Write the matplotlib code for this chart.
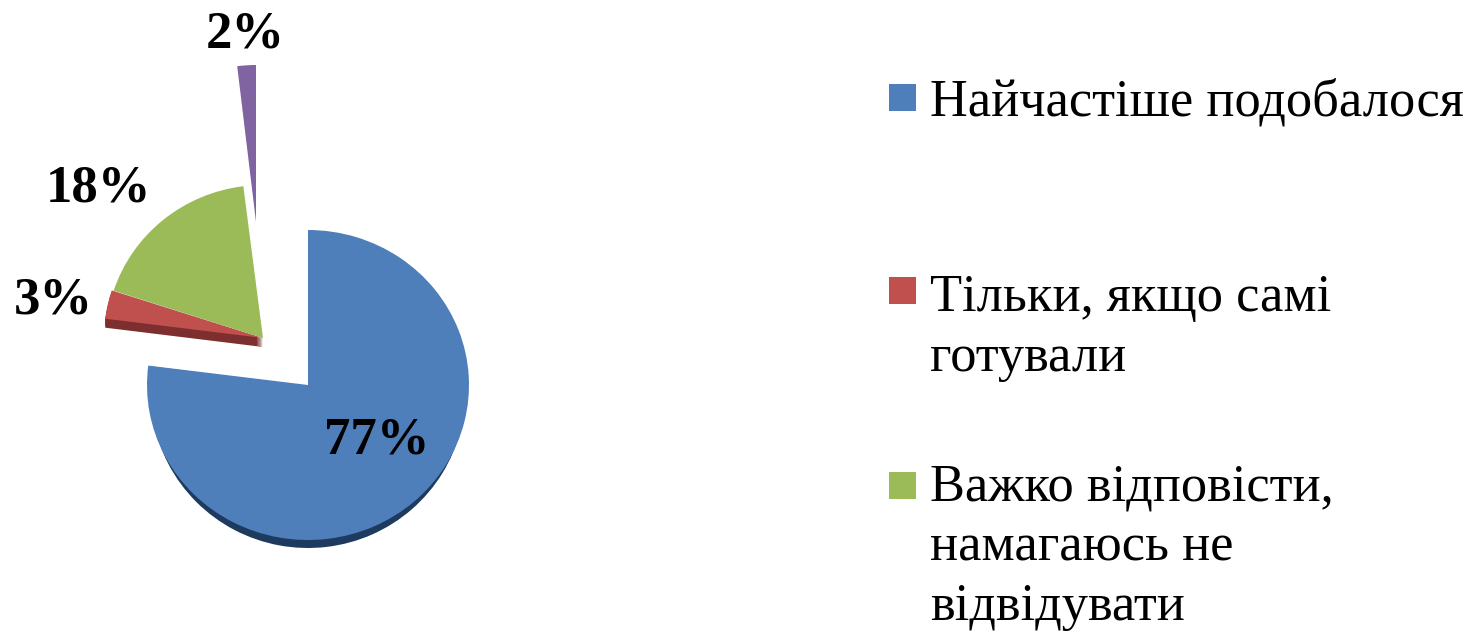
import matplotlib
matplotlib.use('Agg')
import matplotlib.pyplot as plt
from matplotlib.patches import Wedge, Rectangle
from matplotlib.transforms import Affine2D

# data
shares = [77, 3, 18, 2]
share_labels = ['77%', '3%', '18%', '2%']
legend_labels = ['Найчастіше подобалося',
                 'Тільки, якщо самі\nготували',
                 'Важко відповісти,\nнамагаюсь не\nвідвідувати']

colors = ['#4f7fba', '#c0504d', '#9bbb59', '#8064a2']
side_colors = ['#1f3a5f', '#7c2f2e', '#9bbb59', '#4d3b66']
side_depth = [8, 9, 0, 0]
side_inset = [4, 0, 0, 0]

W, H = 1467, 634
# slice apex in image pixels (y measured from the top)
apex = [(308, 385), (263, 338), (263, 338), (256, 222)]
radius_x = [161, 159, 157, 150]
radius_y = [155, 154, 153, 157]
label_pos = [(377, 441), (53, 301), (99, 189), (245, 35)]
# image y of the last text line and of the marker centre
legend_last = [116, 371, 620]
marker_mid = [97, 290, 485]

plt.rcParams['font.family'] = ['Liberation Serif', 'DejaVu Serif']

fig = plt.figure(figsize=(W / 100, H / 100), dpi=100)
ax = fig.add_axes([0, 0, 1, 1])
ax.set_xlim(0, W)
ax.set_ylim(0, H)
ax.axis('off')


def add_slice(cx, cy, rx, ry, start, end, color, zorder):
    """Draw one slice; start and end in percent, clockwise from 12 o'clock."""
    t1 = 90 - end * 3.6
    t2 = 90 - start * 3.6
    squash = Affine2D().scale(1, ry / rx).translate(cx, cy)
    ax.add_patch(Wedge((0, 0), rx, t1, t2, facecolor=color, edgecolor='none',
                       transform=squash + ax.transData, zorder=zorder))


# sides first, so that the top faces cover them
start = 0
for i, share in enumerate(shares):
    cx, cy = apex[i]
    for d in range(1, side_depth[i] + 1):
        add_slice(cx, H - cy - d, radius_x[i] - side_inset[i], radius_y[i],
                  start, start + share, side_colors[i], 1)
    start += share

start = 0
for i, share in enumerate(shares):
    cx, cy = apex[i]
    add_slice(cx, H - cy, radius_x[i], radius_y[i], start, start + share,
              colors[i], 2)
    start += share

for (x, y), label in zip(label_pos, share_labels):
    ax.text(x, H - y, label, fontsize=38, fontweight='bold', color='black',
            ha='center', va='center', zorder=3)

for i, label in enumerate(legend_labels):
    ax.add_patch(Rectangle((889, H - marker_mid[i] - 13.5), 27, 27,
                           facecolor=colors[i], edgecolor='none'))
    ax.text(930, H - legend_last[i], label, fontsize=37.7, color='black',
            ha='left', va='baseline', linespacing=1.32)

plt.savefig('out.png', dpi=100)
